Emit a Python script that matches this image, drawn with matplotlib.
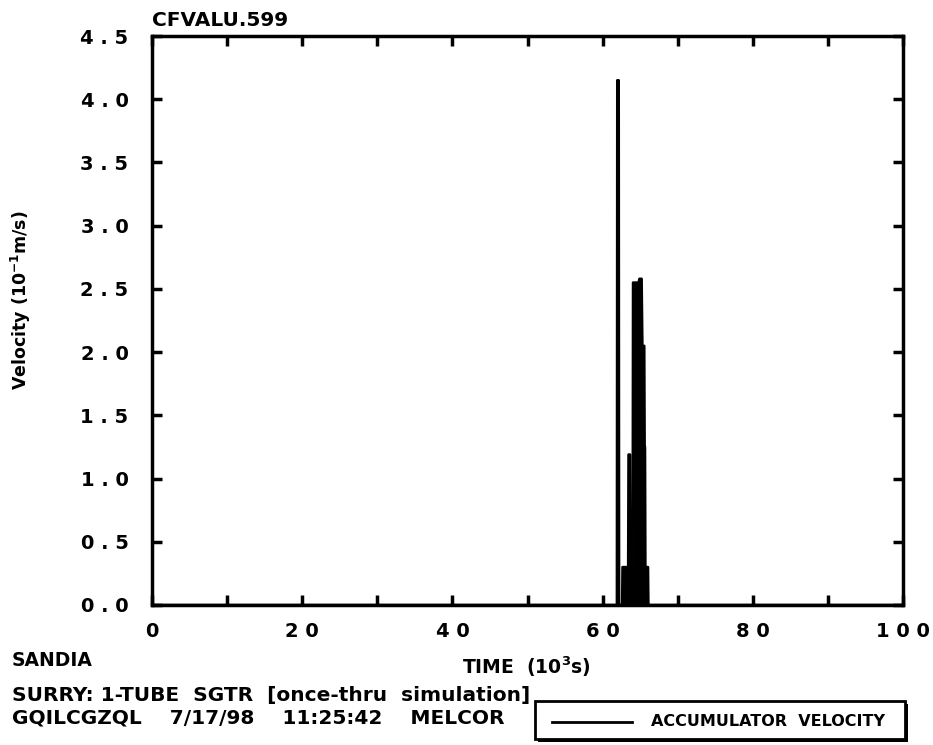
import matplotlib
matplotlib.use("Agg")
import matplotlib.pyplot as plt
from matplotlib.patches import Rectangle
from matplotlib.lines import Line2D

# Accumulator velocity trace (time in 10^3 s, velocity in 10^-1 m/s)
time_ks = [0.0, 61.9, 61.95, 62.15, 62.2, 62.6, 62.65, 63.4, 63.45, 63.65,
           63.7, 64.0, 64.05, 64.8, 64.9, 65.2, 65.3, 65.55, 65.6, 65.65,
           65.7, 66.05, 66.1, 100.0]
velocity = [0.0, 0.0, 4.15, 4.15, 0.0, 0.0, 0.3, 0.3, 1.19, 1.19,
            0.3, 0.3, 2.55, 2.55, 2.58, 2.58, 2.05, 2.05, 1.25, 1.25,
            0.3, 0.3, 0.0, 0.0]

x_ticks = [0, 10, 20, 30, 40, 50, 60, 70, 80, 90, 100]
x_labels = ["0", "", "2 0", "", "4 0", "", "6 0", "", "8 0", "", "1 0 0"]
y_ticks = [0.0, 0.5, 1.0, 1.5, 2.0, 2.5, 3.0, 3.5, 4.0, 4.5]
y_labels = ["0 . 0", "0 . 5", "1 . 0", "1 . 5", "2 . 0", "2 . 5",
            "3 . 0", "3 . 5", "4 . 0", "4 . 5"]

plt.rcParams['font.family'] = ['DejaVu Sans']
plt.rcParams['mathtext.default'] = 'bf'
W, H = 933, 745
fig = plt.figure(figsize=(W / 100, H / 100), dpi=100)
ax = fig.add_axes([152 / W, 1 - 605 / H, 751 / W, 569 / H])

ax.fill_between(time_ks, velocity, 0, color="black", lw=0)
ax.plot(time_ks, velocity, color="black", lw=1.8)
ax.set_xlim(0, 100)
ax.set_ylim(0, 4.5)

ax.set_xticks(x_ticks)
ax.set_xticklabels(x_labels, fontsize=14, fontweight="bold")
ax.set_yticks(y_ticks)
ax.set_yticklabels(y_labels, fontsize=14, fontweight="bold")
ax.tick_params(axis="both", direction="in", length=7, width=2.5,
               top=True, right=True)
ax.tick_params(axis="x", pad=12)
ax.tick_params(axis="y", pad=17)
for sp in ax.spines.values():
    sp.set_linewidth(2.5)

def ftext(px, py, s, size, ha="left", rotation=0):
    fig.text(px / W, 1 - py / H, s, fontsize=size, fontweight="bold",
             ha=ha, va="center", rotation=rotation)

ftext(21, 300, "Velocity (10$^{-1}$m/s)", 12.5, ha="center", rotation=90)
ftext(152, 20, "CFVALU.599", 14.5)
ftext(526, 667, "TIME  (10$^3$s)", 13.5, ha="center")
ftext(12, 660, "SANDIA", 13.5)
ftext(12, 695, "SURRY: 1-TUBE  SGTR  [once-thru  simulation]", 14.5)
ftext(12, 718, "GQILCGZQL    7/17/98    11:25:42    MELCOR", 14.5)

# Legend box with drop shadow
fig.patches.append(Rectangle((538 / W, 1 - 742 / H), 370 / W, 38 / H,
                             transform=fig.transFigure, facecolor="black",
                             edgecolor="none"))
fig.patches.append(Rectangle((535 / W, 1 - 739 / H), 370 / W, 38 / H,
                             transform=fig.transFigure, facecolor="white",
                             edgecolor="black", lw=2.0))
fig.lines.append(Line2D([552 / W, 632 / W], [1 - 722 / H, 1 - 722 / H],
                        transform=fig.transFigure, color="black", lw=2.0))
ftext(651, 722, "ACCUMULATOR  VELOCITY", 11.5)

fig.savefig("out.png", dpi=100)
